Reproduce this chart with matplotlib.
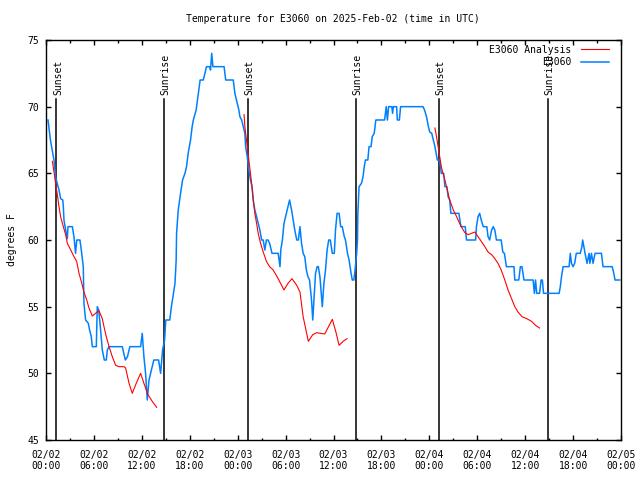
import matplotlib
matplotlib.use("Agg")
import matplotlib.pyplot as plt

# hours since 02/02 00:00 UTC
obs_hours = [0.25, 0.58, 1.0, 1.2, 1.4, 1.63, 1.83, 2.1, 2.17, 2.25, 2.46, 2.67, 2.75, 3.3, 3.5, 3.7, 3.85, 4.25,
             4.42, 4.67, 4.75, 4.96, 5.3, 5.46, 5.67, 5.8, 6.3, 6.42, 6.6, 6.8, 7.05, 7.3, 7.55, 7.68, 7.9, 9.55,
             9.93, 10.2, 10.5, 11.85, 12.05, 12.26, 12.47, 12.68, 12.9, 13.1, 13.5, 14.1, 14.35, 14.6, 14.85, 15.0,
             15.5, 15.7, 15.9, 16.15, 16.3, 16.35, 16.56, 16.85, 17.1, 17.4, 17.6, 17.8, 18.1, 18.3, 18.45, 18.8,
             19.07, 19.3, 19.7, 19.9, 20.1, 20.5, 20.6, 20.75, 20.9, 22.3, 22.5, 23.45, 23.65, 23.95, 24.15, 24.28,
             24.5, 24.7, 24.9, 25.0, 25.2, 25.4, 25.6, 25.8, 25.95, 26.15, 26.37, 26.57, 26.78, 27.0, 27.2, 27.4,
             27.6, 27.8, 28.0, 28.3, 29.07, 29.3, 29.4, 29.6, 29.8, 30.1, 30.3, 30.5, 30.75, 30.95, 31.15, 31.4,
             31.6, 31.8, 32.0, 32.2, 32.4, 32.6, 32.8, 33.0, 33.25, 33.4, 33.55, 33.75, 33.95, 34.1, 34.3, 34.5,
             34.6, 34.8, 35.0, 35.2, 35.4, 35.6, 35.85, 36.1, 36.25, 36.45, 36.7, 36.9, 37.1, 37.35, 37.5, 37.75,
             37.95, 38.2, 38.35, 38.55, 38.7, 38.9, 39.0, 39.05, 39.13, 39.2, 39.5, 39.7, 39.85, 40.0, 40.3, 40.45,
             40.7, 40.85, 41.1, 41.3, 42.4, 42.6, 42.75, 42.9, 43.3, 43.4, 43.5, 43.9, 44.0, 44.25, 44.4, 47.2,
             47.4, 47.65, 47.85, 48.05, 48.3, 48.5, 48.7, 49.0, 49.3, 49.5, 49.8, 49.95, 50.2, 50.35, 50.55, 50.7,
             51.7, 51.95, 52.5, 52.65, 53.8, 53.9, 54.1, 54.3, 54.5, 54.75, 55.2, 55.35, 55.55, 55.8, 56.0, 56.2,
             56.4, 57.0, 57.2, 57.4, 57.65, 58.6, 58.7, 59.2, 59.4, 59.6, 59.85, 61.0, 61.15, 61.3, 61.45, 61.8,
             62.0, 62.15, 62.3, 62.45, 64.25, 64.4, 64.55, 64.75, 65.5, 65.65, 65.8, 66.0, 66.2, 66.4, 66.9, 67.1,
             67.2, 67.35, 67.5, 67.75, 68.0, 68.1, 68.3, 68.5, 68.75, 69.55, 69.75, 70.9, 71.1, 71.25, 71.85]
obs_temp = [69.0, 67.4, 66.0, 64.75, 64.25, 63.75, 63.1, 63.0, 62.5, 61.5, 60.75, 60.1, 61.0, 61.0, 60.25, 59.0, 60.0, 60.0,
            59.25, 58.0, 55.25, 54.0, 53.75, 53.25, 52.75, 52.0, 52.0, 55.0, 54.75, 53.5, 51.75, 51.0, 51.0, 51.75, 52.0, 52.0,
            51.0, 51.25, 52.0, 52.0, 53.0, 51.25, 50.0, 48.0, 49.5, 50.0, 51.0, 51.0, 50.0, 51.75, 52.5, 54.0,
            54.0, 55.0, 55.75, 56.75, 58.5, 60.5, 62.25, 63.5, 64.5, 65.0, 65.5, 66.5, 67.5, 68.5, 69.0, 69.75,
            71.0, 72.0, 72.0, 72.5, 73.0, 73.0, 72.75, 74.0, 73.0, 73.0, 72.0, 72.0, 71.0, 70.25, 69.75, 69.25,
            69.0, 68.5, 68.0, 67.0, 66.25, 65.25, 64.5, 64.0, 63.0, 62.25, 61.75, 61.25, 60.75, 60.0, 60.0, 59.25,
            60.0, 60.0, 59.75, 59.0, 59.0, 58.0, 59.25, 60.0, 61.25, 62.0, 62.5, 63.0, 62.25, 61.5, 60.75, 60.0,
            60.0, 61.0, 59.75, 59.0, 58.75, 57.75, 57.25, 57.0, 55.5, 54.0, 55.5, 57.5, 58.0, 58.0, 57.25, 55.75,
            55.0, 56.75, 57.75, 59.25, 60.0, 60.0, 59.0, 59.0, 60.75, 62.0, 62.0, 61.0, 61.0, 60.25, 60.0, 59.0,
            58.5, 57.5, 57.0, 57.0, 57.75, 59.0, 60.0, 62.0, 63.0, 64.0, 64.25, 64.75, 65.5, 66.0, 66.0, 67.0,
            67.0, 67.75, 68.0, 69.0, 69.0, 70.0, 69.0, 70.0, 70.0, 69.5, 70.0, 70.0, 69.0, 69.0, 70.0, 70.0,
            69.75, 69.25, 68.6, 68.1, 68.0, 67.5, 67.0, 66.0, 66.0, 65.0, 65.0, 64.0, 64.0, 63.25, 63.0, 62.0,
            62.0, 61.0, 61.0, 60.0, 60.0, 61.0, 61.75, 62.0, 61.5, 61.0, 61.0, 60.25, 60.0, 60.75, 61.0, 60.75,
            60.0, 60.0, 59.1, 59.0, 58.0, 58.0, 57.0, 57.0, 58.0, 58.0, 57.0, 57.0, 56.0, 57.0, 56.0, 56.0,
            57.0, 57.0, 56.0, 56.0, 56.0, 56.5, 57.25, 58.0, 58.0, 59.0, 58.25, 58.0, 58.25, 59.0, 59.0, 59.5,
            60.0, 59.5, 59.0, 58.25, 59.0, 58.25, 59.0, 58.25, 59.0, 59.0, 58.0, 58.0, 57.5, 57.0, 57.0]

ana1_hours = [0.8, 1.0, 1.2, 1.42, 1.63, 1.83, 2.17, 2.46, 2.67, 3.1, 3.5, 3.84, 4.13, 4.42, 4.75, 5.1, 5.38, 5.8,
              6.2, 6.63, 7.05, 7.26, 7.55, 7.9, 8.3, 8.72, 9.14, 9.76, 9.97, 10.4, 10.8, 11.3, 11.85, 12.26, 12.77,
              13.3, 13.85]
ana1_temp = [65.9, 65.1, 64.25, 63.4, 62.5, 61.75, 61.0, 60.4, 59.75, 59.25, 58.75, 58.4, 57.5, 56.9, 56.1, 55.5, 54.9, 54.3,
             54.5, 54.7, 54.1, 53.5, 52.75, 52.0, 51.25, 50.6, 50.5, 50.5, 50.4, 49.25, 48.5, 49.25, 50.0, 49.25, 48.4,
             47.9, 47.45]
ana2_hours = [24.8, 24.9, 25.1, 25.3, 25.5, 25.75, 25.95, 26.15, 26.37, 26.57, 26.87, 27.2, 27.6, 28.0, 28.45, 29.07,
              29.8, 30.3, 30.8, 31.4, 31.8, 32.2, 32.55, 32.85, 33.4, 33.9, 34.9, 35.85, 36.3, 36.7, 37.2, 37.7]
ana2_temp = [69.4, 68.5, 67.5, 66.5, 65.5, 64.25, 63.0, 62.0, 61.25, 60.5, 59.75, 59.1, 58.4, 58.0, 57.75, 57.1,
             56.25, 56.75, 57.1, 56.6, 56.1, 54.25, 53.25, 52.4, 52.9, 53.05, 52.95, 54.05, 53.1, 52.1, 52.4, 52.6]
ana3_hours = [48.7, 48.9, 49.1, 49.3, 49.5, 49.7, 49.95, 50.15, 50.35, 50.55, 50.8, 51.0, 51.3, 51.6, 52.0, 52.45,
              52.85, 53.3, 53.7, 54.1, 54.5, 54.95, 55.35, 55.8, 56.2, 56.6, 57.0, 57.45, 57.86, 58.3, 58.7, 59.1,
              59.6, 60.2, 60.8, 61.3, 61.8]
ana3_temp = [68.4, 67.75, 67.0, 66.25, 65.5, 65.0, 64.5, 64.0, 63.5, 63.0, 62.6, 62.25, 61.9, 61.5, 61.0, 60.55,
             60.4, 60.5, 60.6, 60.25, 59.9, 59.5, 59.1, 58.9, 58.6, 58.25, 57.75, 57.0, 56.25, 55.6, 55.0, 54.6,
             54.25, 54.1, 53.9, 53.6, 53.4]

sun_hours = [1.29, 14.8, 25.3, 38.84, 49.2, 62.87]
sun_labels = ["Sunset", "Sunrise", "Sunset", "Sunrise", "Sunset", "Sunrise"]

xtick_hours = list(range(0, 73, 6))
xtick_labels = ["02/02\n00:00", "02/02\n06:00", "02/02\n12:00", "02/02\n18:00",
                "02/03\n00:00", "02/03\n06:00", "02/03\n12:00", "02/03\n18:00",
                "02/04\n00:00", "02/04\n06:00", "02/04\n12:00", "02/04\n18:00",
                "02/05\n00:00"]
ytick_vals = [45, 50, 55, 60, 65, 70, 75]

plt.rcParams['font.family'] = ['DejaVu Sans Mono']
plt.rcParams['font.size'] = 7

fig = plt.figure(figsize=(6.4, 4.8), dpi=100)
ax = fig.add_axes([46 / 640, 40 / 480, 575 / 640, 400 / 480])

for h, lab in zip(sun_hours, sun_labels):
    ax.plot([h, h], [45, 70.55], color='black', lw=1.1, zorder=1)
    ax.text(h + 0.2, 70.9, lab, rotation=90, ha='center', va='bottom', fontsize=7)

blue, = ax.plot(obs_hours, obs_temp, color='#0080ff', lw=1.1, zorder=2, label='E3060')
red, = ax.plot(ana1_hours, ana1_temp, color='#ff0000', lw=0.8, zorder=3, label='E3060 Analysis')
ax.plot(ana2_hours, ana2_temp, color='#ff0000', lw=0.8, zorder=3)
ax.plot(ana3_hours, ana3_temp, color='#ff0000', lw=0.8, zorder=3)

ax.set_xlim(0, 72)
ax.set_ylim(45, 75)
ax.set_xticks(xtick_hours)
ax.set_xticklabels(xtick_labels)
ax.set_xticks(range(0, 73, 3), minor=True)
ax.set_yticks(ytick_vals)
ax.tick_params(which='both', direction='in', top=True, right=True, width=1.0)
ax.tick_params(which='major', length=3.3)
ax.tick_params(which='minor', length=1.8)
ax.tick_params(axis='x', which='major', pad=7)
ax.tick_params(axis='y', pad=5)
for s in ax.spines.values():
    s.set_linewidth(1.0)

ax.set_ylabel("degrees F")
ax.yaxis.set_label_coords(-0.05, 0.5)
fig.text(0.5 * (183 + 482) / 640, 1 - 19 / 480, "Temperature for E3060 on 2025-Feb-02 (time in UTC)",
         ha='center', va='center', fontsize=7)

ax.legend(handles=[red, blue], loc='upper right', bbox_to_anchor=(0.979, 0.988),
          frameon=False, markerfirst=False, handlelength=2.9, handletextpad=1.0,
          labelspacing=0.25, borderaxespad=0, borderpad=0, fontsize=7)

fig.savefig("out.png", dpi=100)
